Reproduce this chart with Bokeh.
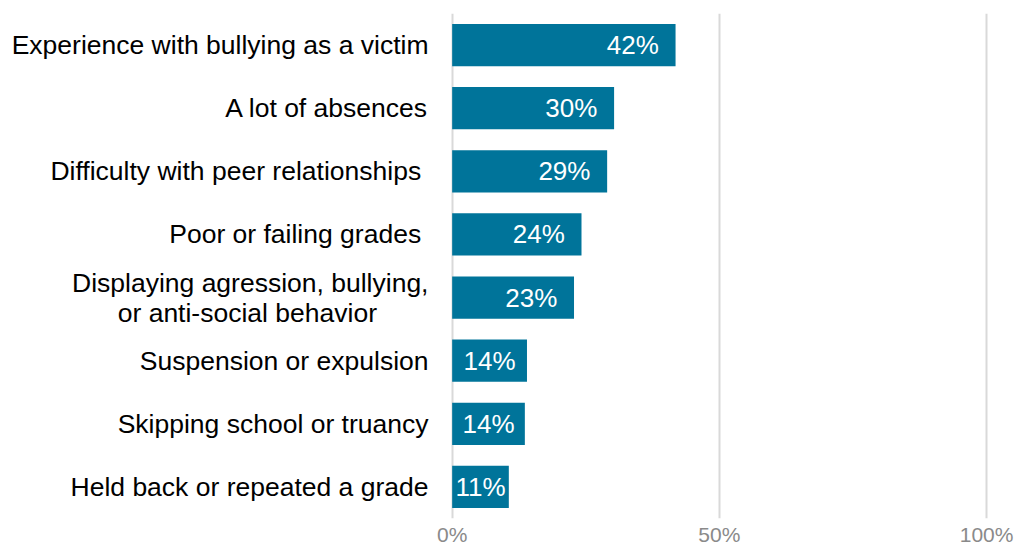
from bokeh.plotting import figure
from bokeh.models import ColumnDataSource, FactorRange, Range1d, FixedTicker, PrintfTickFormatter
from bokeh.embed import file_html
from bokeh.resources import INLINE
from bokeh.core.properties import value
import numpy as np

NB = "\u00a0"
categories = [
    "Experience with bullying as a victim",
    "A lot of absences",
    "Difficulty with peer relationships" + NB,
    "Poor or failing grades" + NB,
    "Displaying agression, bullying,\nor anti-social behavior" + NB * 7,
    "Suspension or expulsion",
    "Skipping school or truancy",
    "Held back or repeated a grade",
]
values = [41.8, 30.3, 29.0, 24.2, 22.8, 14.0, 13.6, 10.6]
tick_values = [0, 50, 100]

FONT = "Liberation Sans"
BAR = "#00749A"

vals = np.array(values)
src = ColumnDataSource(dict(
    cat=categories,
    v=values,
    lx=list(np.maximum(vals / 2.0, vals - 8.0)),
    lab=[f"{x:.0f}%" for x in values],
))

p = figure(
    width=1016, height=548,
    y_range=FactorRange(factors=list(reversed(categories)), range_padding=0),
    x_range=Range1d(-0.5, 105.6),
    output_backend="svg", toolbar_location=None,
    min_border_left=449, min_border_right=0, min_border_top=13, min_border_bottom=30,
)
p.outline_line_color = None
p.background_fill_color = "white"
p.border_fill_color = "white"

p.hbar(y="cat", right="v", left=0, height=0.67, source=src, color=BAR, line_color=None)
p.text(x="lx", y="cat", text="lab", source=src, text_color="white",
       text_font=value(FONT), text_font_size="26px", text_align="center",
       text_baseline="middle")

p.ygrid.grid_line_color = None
p.xgrid.ticker = FixedTicker(ticks=tick_values)
p.xgrid.grid_line_color = "#d9d9d9"
p.xgrid.grid_line_width = 2
p.xgrid.level = "underlay"

xa = p.xaxis[0]
xa.ticker = FixedTicker(ticks=tick_values)
xa.formatter = PrintfTickFormatter(format="%d%%")
xa.axis_line_color = None
xa.major_tick_line_color = None
xa.major_tick_out = 0
xa.major_tick_in = 0
xa.minor_tick_line_color = None
xa.minor_tick_out = 0
xa.major_label_text_font = FONT
xa.major_label_text_font_size = "21px"
xa.major_label_text_color = "#8a8a8a"
xa.major_label_standoff = 4

ya = p.yaxis[0]
ya.axis_line_color = None
ya.major_tick_line_color = None
ya.major_tick_out = 0
ya.major_tick_in = 0
ya.minor_tick_line_color = None
ya.minor_tick_out = 0
ya.major_label_text_font = FONT
ya.major_label_text_font_size = "26.5px"
ya.major_label_text_line_height = 1.0
ya.major_label_text_color = "#000000"
ya.major_label_standoff = 21

open("out.html", "w").write(file_html(p, INLINE))
